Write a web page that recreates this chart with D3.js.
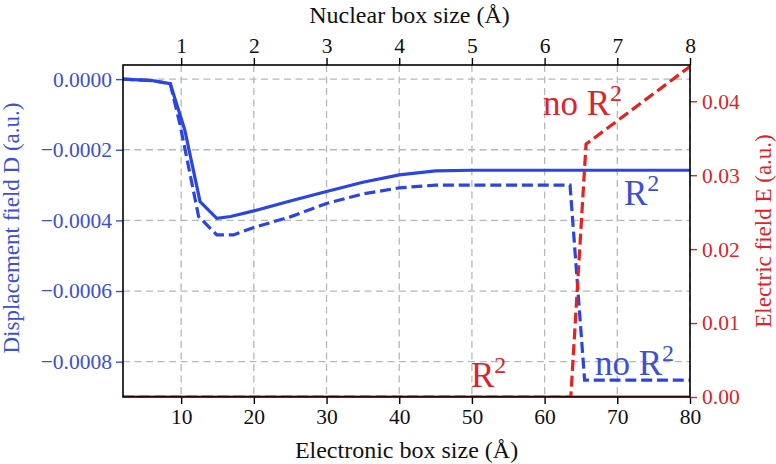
<!DOCTYPE html>
<html>
<head>
<meta charset="utf-8">
<script src="https://cdn.jsdelivr.net/npm/d3@7"></script>
</head>
<body style="margin:0">
<script>
// displacement field D, with R^2 (solid) and without (dashed)
const dSolidX = [2, 6, 8.5, 10.5, 12.6, 14.9, 16.8, 20, 25, 30, 35, 40, 45, 50, 80];
const dSolidY = [0, -0.000004, -0.000013, -0.000144, -0.000347, -0.000394, -0.000389, -0.000373, -0.000345, -0.000318, -0.000292, -0.000271, -0.00026, -0.000258, -0.000258];
const dDashX = [2, 6, 8.5, 9.9, 12.4, 14.9, 17.2, 20, 25, 30, 35, 40, 45, 63.5, 65.5, 80];
const dDashY = [0, -0.000004, -0.000013, -0.000134, -0.000389, -0.000441, -0.000441, -0.00042, -0.00039, -0.000352, -0.000325, -0.000308, -0.0003, -0.0003, -0.000852, -0.000852];
// electric field E
const eSolidX = [2, 80];
const eSolidY = [0, 0];
const eDashX = [2, 63.6, 65.7, 80];
const eDashY = [0, 0, 0.0342, 0.0447];

const bottomTicks = [10, 20, 30, 40, 50, 60, 70, 80];
const topTicks = [1, 2, 3, 4, 5, 6, 7, 8];
const leftTicks = [0, -0.0002, -0.0004, -0.0006, -0.0008];
const rightTicks = [0, 0.01, 0.02, 0.03, 0.04];

const blue = "#2b45e3", red = "#e8211d";
const blueText = "#3b50d2", redText = "#d8262a";
const fontName = "Tinos";

const margin = {top: 65, right: 86, bottom: 67, left: 123};
const W = 776, H = 464;
const width = W - margin.left - margin.right;
const height = H - margin.top - margin.bottom;

const svg = d3.select("body").append("svg")
    .attr("width", W).attr("height", H);
const g = svg.append("g")
    .attr("transform", `translate(${margin.left},${margin.top})`);

const x = d3.scaleLinear().domain([2, 80]).range([0, width]);
const xTop = d3.scaleLinear().domain([0.2, 8]).range([0, width]);
const yL = d3.scaleLinear().domain([-0.0009, 0.00004]).range([height, 0]);
const yR = d3.scaleLinear().domain([0, 0.0449]).range([height, 0]);

g.append("clipPath").attr("id", "clip")
  .append("rect").attr("width", width).attr("height", height);

// grid
const grid = g.append("g").attr("stroke", "#b4b9b9").attr("stroke-width", 1.3)
    .attr("stroke-dasharray", "7,4.5");
bottomTicks.forEach(t => grid.append("line")
    .attr("x1", x(t)).attr("x2", x(t)).attr("y1", 0).attr("y2", height));
leftTicks.forEach(t => grid.append("line")
    .attr("x1", 0).attr("x2", width).attr("y1", yL(t)).attr("y2", yL(t)));

const plot = g.append("g").attr("clip-path", "url(#clip)");
function drawLine(xs, ys, ys2, color, dashed) {
  const pts = xs.map((v, i) => [x(v), ys2(ys[i])]);
  plot.append("path")
    .attr("d", d3.line()(pts))
    .attr("fill", "none")
    .attr("stroke", color)
    .attr("stroke-width", 3.2)
    .attr("stroke-dasharray", dashed ? "11,4.8" : null);
}
drawLine(dSolidX, dSolidY, yL, blue, false);
drawLine(dDashX, dDashY, yL, blue, true);
drawLine(eSolidX, eSolidY, yR, red, false);
drawLine(eDashX, eDashY, yR, red, true);

// axes
const axB = g.append("g").attr("transform", `translate(0,${height})`)
    .call(d3.axisBottom(x).tickValues(bottomTicks).tickSize(7).tickPadding(5));
const axT = g.append("g")
    .call(d3.axisTop(xTop).tickValues(topTicks).tickSize(7).tickPadding(5));
const axL = g.append("g")
    .call(d3.axisLeft(yL).tickValues(leftTicks).tickSize(7).tickPadding(4)
      .tickFormat(d => (d < 0 ? "\u2212" : "") + Math.abs(d).toFixed(4)));
const axR = g.append("g").attr("transform", `translate(${width},0)`)
    .call(d3.axisRight(yR).tickValues(rightTicks).tickSize(7).tickPadding(5)
      .tickFormat(d => d.toFixed(2)));

[axB, axT, axL, axR].forEach(a => {
  a.attr("font-family", fontName).attr("font-size", 21.5);
  a.select(".domain").remove();
  a.selectAll("text").attr("font-family", fontName).style("font-family", fontName);
  a.selectAll("line").attr("stroke-width", 1.4);
});
axB.selectAll("text").attr("fill", "#111");
axT.selectAll("text").attr("fill", "#111");
axL.selectAll("line").attr("stroke", blueText);
axL.selectAll("text").attr("fill", blueText);
axR.selectAll("line").attr("stroke", redText);
axR.selectAll("text").attr("fill", redText);

g.append("rect").attr("width", width).attr("height", height)
  .attr("fill", "none").attr("stroke", "#000").attr("stroke-width", 1.6);

// axis titles
function title(tx, ty, rot, size, color, str) {
  svg.append("text")
    .attr("transform", `translate(${tx},${ty})` + (rot ? " rotate(-90)" : ""))
    .attr("text-anchor", "middle").attr("fill", color)
    .attr("font-family", fontName).style("font-family", fontName)
    .attr("font-size", size)
    .text(str);
}
title(margin.left + width / 2, 458, false, 24, "#111", "Electronic box size (Å)");
title(margin.left + width / 2 + 3, 23, false, 24, "#111", "Nuclear box size (Å)");
title(19, margin.top + height / 2 - 3, true, 23, blueText, "Displacement field D (a.u.)");
title(771, margin.top + height / 2, true, 23, redText, "Electric field E (a.u.)");

// in-plot labels
function label(px, py, pre, color) {
  const t = svg.append("text").attr("x", px).attr("y", py)
    .attr("fill", color).attr("font-family", fontName).style("font-family", fontName)
    .attr("font-size", 35);
  t.append("tspan").text(pre + "R");
  t.append("tspan").attr("font-size", 24).attr("dy", "-14").text("2");
}
label(543, 115, "no ", redText);
label(624, 205, "", blueText);
label(471, 387, "", redText);
label(595, 375, "no ", blueText);
</script>
</body>
</html>
